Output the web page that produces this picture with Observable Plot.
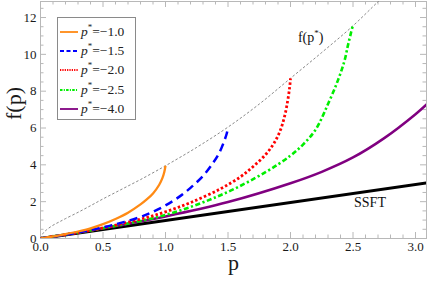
<!DOCTYPE html>
<html><head><meta charset="utf-8">
<script src="https://cdn.jsdelivr.net/npm/d3@7"></script>
<script src="https://cdn.jsdelivr.net/npm/@observablehq/plot@0.6"></script>
<style>
body{margin:0;background:#fff;}
#wrap{position:relative;width:436px;height:283px;font-family:"Liberation Serif";}
.ann{position:absolute;font-size:14px;color:#111;white-space:nowrap;transform:translate(-50%,-50%);font-family:"Liberation Serif";}
.ann sup,.leg sup{font-size:9px;vertical-align:6px;line-height:0;}
#legend{position:absolute;border:1px solid #8a8a8a;background:#fff;}
.leg{position:absolute;left:2px;display:flex;align-items:center;font-size:13.5px;color:#222;white-space:nowrap;font-family:"Liberation Serif";}
.leg svg{margin-right:3px;}
</style></head>
<body><div id="wrap"></div>
<script>
// ---- data ----
const envP = [0, 0.02, 0.05, 0.1, 0.15, 0.2, 0.3, 0.4, 0.5, 0.6, 0.7, 0.8, 0.9, 1.0, 1.25, 1.5, 1.75, 2.0, 2.25, 2.5, 2.75];
const envF = [0, 0.28, 0.48, 0.72, 0.9, 1.08, 1.42, 1.78, 2.15, 2.5, 2.85, 3.2, 3.57, 3.95, 4.95, 6.05, 7.3, 8.7, 10.1, 11.55, 13.2];

const orangeP = [0, 0.1, 0.2, 0.3, 0.4, 0.5, 0.6, 0.7, 0.8, 0.85, 0.9, 0.95, 0.975, 0.99, 1.0];
const orangeF = [0, 0.11, 0.24, 0.38, 0.55, 0.78, 1.06, 1.4, 1.85, 2.12, 2.45, 2.92, 3.28, 3.6, 3.95];

const blueP = [0, 0.2, 0.4, 0.6, 0.8, 0.9, 1.0, 1.1, 1.2, 1.3, 1.38, 1.43, 1.47, 1.49, 1.5];
const blueF = [0, 0.21, 0.46, 0.77, 1.17, 1.45, 1.8, 2.22, 2.75, 3.4, 4.1, 4.65, 5.3, 5.7, 6.05];

const redP = [0, 0.4, 0.8, 1.0, 1.2, 1.44, 1.6, 1.7, 1.8, 1.87, 1.92, 1.955, 1.978, 1.993, 2.0];
const redF = [0, 0.44, 1.05, 1.45, 1.95, 2.7, 3.35, 3.9, 4.55, 5.2, 5.9, 6.7, 7.5, 8.2, 8.7];

const greenP = [0, 0.5, 1.0, 1.44, 1.8, 2.0, 2.1, 2.2, 2.3, 2.38, 2.43, 2.46, 2.485, 2.5];
const greenF = [0, 0.56, 1.28, 2.35, 3.6, 4.5, 5.1, 5.9, 7.3, 8.6, 9.6, 10.5, 11.2, 11.6];

const purpleP = [0, 0.5, 1.0, 1.5, 2.0, 2.25, 2.5, 2.75, 3.0, 3.1];
const purpleF = [0, 0.56, 1.2, 1.98, 3.0, 3.62, 4.4, 5.45, 6.75, 7.35];

const ssftP = [0, 3.1];
const ssftF = [0, 3.03];

const legendValues = ["−1.0", "−1.5", "−2.0", "−2.5", "−4.0"];

const xMajor = [0, 0.5, 1.0, 1.5, 2.0, 2.5, 3.0];
const xMinor = [0.1,0.2,0.3,0.4,0.6,0.7,0.8,0.9,1.1,1.2,1.3,1.4,1.6,1.7,1.8,1.9,2.1,2.2,2.3,2.4,2.6,2.7,2.8,2.9];
const yMajor = [0, 2, 4, 6, 8, 10, 12];
const yMinor = [0.5,1,1.5,2.5,3,3.5,4.5,5,5.5,6.5,7,7.5,8.5,9,9.5,10.5,11,11.5,12.5];

const annotations = [
  {p: 2.165, f: 10.84, html: "f(p<sup>*</sup>)"},
  {p: 2.64, f: 1.9, html: "SSFT"}
];

// ---- layout ----
const W = 436, H = 283, mL = 40, mR = 10, mT = 1, mB = 45;
const xDom = [0, 3.088], yDom = [0, 12.87];
const kx = (xDom[1]-xDom[0])/(W-mL-mR), ky = (yDom[1]-yDom[0])/(H-mT-mB);
const serif = "Liberation Serif";

const zip = (P, F) => P.map((p, i) => ({p, f: F[i]}));
const styles = [
  {P: orangeP, F: orangeF, stroke: "#ff8a14", w: 2.3, dash: null},
  {P: blueP, F: blueF, stroke: "#0000ff", w: 2.5, dash: "8,5"},
  {P: redP, F: redF, stroke: "#ff0000", w: 2.8, dash: "2.5,2.2"},
  {P: greenP, F: greenF, stroke: "#00ee00", w: 2.6, dash: "5,2.5,2.2,2.5"},
  {P: purpleP, F: purpleF, stroke: "#800080", w: 2.5, dash: null}
];

const frameColor = "#b8b8b8";
const tickRulesX = (vals, len) => [
  Plot.ruleX(vals, {x: d => d, y1: yDom[0], y2: yDom[0] + len*ky, stroke: frameColor}),
  Plot.ruleX(vals, {x: d => d, y1: yDom[1], y2: yDom[1] - len*ky, stroke: frameColor})
];
const tickRulesY = (vals, len) => [
  Plot.ruleY(vals, {y: d => d, x1: xDom[0], x2: xDom[0] + len*kx, stroke: frameColor}),
  Plot.ruleY(vals, {y: d => d, x1: xDom[1], x2: xDom[1] - len*kx, stroke: frameColor})
];

const plot = Plot.plot({
  width: W, height: H,
  marginLeft: mL, marginRight: mR, marginTop: mT, marginBottom: mB,
  style: {background: "#fff", overflow: "visible"},
  x: {domain: xDom},
  y: {domain: yDom},
  marks: [
    ...tickRulesX(xMajor, 6), ...tickRulesX(xMinor, 3.5),
    ...tickRulesY(yMajor, 6), ...tickRulesY(yMinor, 3.5),
    Plot.frame({stroke: frameColor, strokeWidth: 1}),
    Plot.axisX({ticks: xMajor, tickFormat: d3.format(".1f"), tickSize: 0, tickPadding: 3, fontSize: 13, fill: "#1a1a1a", label: null}),
    Plot.axisY({ticks: yMajor, tickFormat: d3.format("d"), tickSize: 0, tickPadding: 4, fontSize: 13, fill: "#1a1a1a", label: null}),
    Plot.text(["p"], {frameAnchor: "bottom", dy: 31, fontSize: 22, fill: "#1a1a1a"}),
    Plot.text(["f(p)"], {frameAnchor: "left", dx: -27, rotate: -90, fontSize: 22, fill: "#1a1a1a"}),
    Plot.line(zip(envP, envF), {x: "p", y: "f", stroke: "#7a7a7a", strokeWidth: 0.9, strokeDasharray: "2.5,2", strokeLinecap: "butt", curve: "catmull-rom", clip: true}),
    Plot.line(zip(ssftP, ssftF), {x: "p", y: "f", stroke: "#000", strokeWidth: 3, clip: true}),
    ...styles.slice().reverse().map(s => Plot.line(zip(s.P, s.F), {x: "p", y: "f", stroke: s.stroke, strokeWidth: s.w, strokeDasharray: s.dash, strokeLinecap: "butt", curve: "catmull-rom", clip: true}))
  ]
});

// force serif on every svg text element
plot.style.fontFamily = serif;
plot.querySelectorAll("g, text, tspan").forEach(el => {
  if (el.hasAttribute("font-family")) el.removeAttribute("font-family");
  if (el.tagName === "text" || el.tagName === "tspan") el.style.setProperty("font-family", serif, "important");
});

const wrap = document.getElementById("wrap");
wrap.appendChild(plot);
const sx = plot.scale("x"), sy = plot.scale("y");

for (const a of annotations) {
  const d = document.createElement("div");
  d.className = "ann";
  d.style.left = sx.apply(a.p) + "px";
  d.style.top = sy.apply(a.f) + "px";
  d.innerHTML = a.html;
  wrap.appendChild(d);
}

// legend
const lg = document.createElement("div");
lg.id = "legend";
lg.style.left = "57px"; lg.style.top = "17px"; lg.style.width = "77px"; lg.style.height = "101px";
wrap.appendChild(lg);
styles.forEach((s, i) => {
  const row = document.createElement("div");
  row.className = "leg";
  row.style.top = (4 + i*19.4) + "px";
  row.style.height = "19px";
  row.innerHTML = `<svg width="18" height="6"><line x1="0" y1="3" x2="18" y2="3" stroke="${s.stroke}" stroke-width="1.8" ${s.dash ? `stroke-dasharray="${s.dash.split(',').map(v=>v*0.5).join(',')}"` : ""}/></svg><span><i>p</i><sup>*</sup>=${legendValues[i]}</span>`;
  lg.appendChild(row);
});
</script>
</body></html>
